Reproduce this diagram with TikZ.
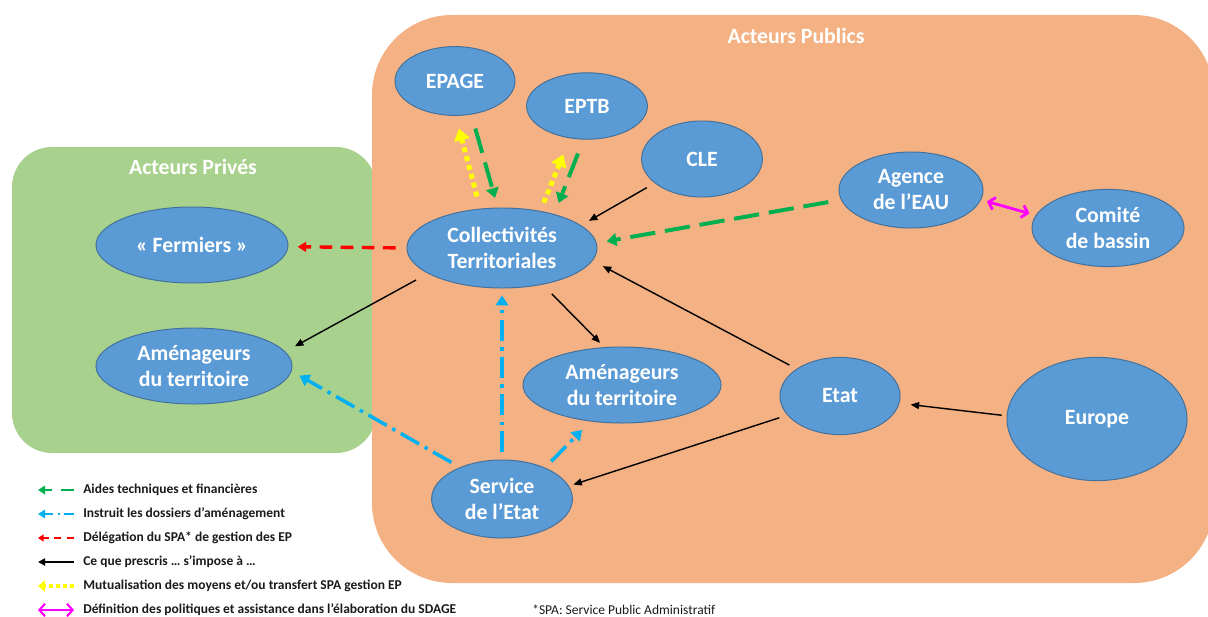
\documentclass[tikz,border=0pt]{standalone}
\usepackage{fontspec}
\setmainfont{Carlito}
\usetikzlibrary{shapes.geometric,arrows.meta}
\definecolor{pubfill}{HTML}{F4B183}
\definecolor{privfill}{HTML}{A9D18E}
\definecolor{actorfill}{HTML}{5B9BD5}
\definecolor{actorline}{HTML}{41719C}
\definecolor{aidgreen}{HTML}{00B050}
\definecolor{instblue}{HTML}{00B0F0}
\definecolor{delegred}{HTML}{FF0000}
\definecolor{mutyellow}{HTML}{FFFF00}
\definecolor{defmagenta}{HTML}{FF00FF}
\definecolor{legendtext}{HTML}{1A1A1A}
\begin{document}
\begin{tikzpicture}[x=0.025cm,y=-0.025cm,
  actor/.style={ellipse,draw=actorline,line width=0.7pt,fill=actorfill,
    text=white,font=\bfseries\fontsize{15.5}{18.5}\selectfont,align=center,inner sep=0pt},
  grouptitle/.style={text=white,font=\bfseries\fontsize{15.5}{18.5}\selectfont},
  aide/.style={draw=aidgreen,line width=2.8pt,dash pattern=on 18pt off 7pt,
    -{Triangle[length=7pt,width=9pt]}},
  instruit/.style={draw=instblue,line width=2.5pt,dash pattern=on 15pt off 4.5pt on 2.5pt off 4.5pt,
    -{Triangle[length=7pt,width=9pt]}},
  delegation/.style={draw=delegred,line width=2.4pt,dash pattern=on 9pt off 6pt,
    -{Triangle[length=6pt,width=7pt]}},
  impose/.style={draw=black,line width=1pt,-{Triangle[length=6pt,width=5pt]}},
  mutual/.style={draw=mutyellow,line width=3.5pt,dash pattern=on 3.5pt off 3pt,
    -{Triangle[length=8.5pt,width=11pt]}},
  definition/.style={draw=defmagenta,line width=2pt,
    {Straight Barb[length=4pt,width=9pt]}-{Straight Barb[length=4pt,width=9pt]}},
  legendlabel/.style={anchor=west,inner sep=0pt,text=legendtext,font=\bfseries\fontsize{9.6}{11}\selectfont},
  notelabel/.style={anchor=west,inner sep=0pt,text=legendtext,font=\fontsize{9.6}{11}\selectfont}
]
\clip (0,0) rectangle (1208,617);

% group backgrounds
\fill[privfill,rounded corners=1cm] (12,147) rectangle (376,453);
\fill[pubfill,rounded corners=2cm] (372,15) rectangle (1214,583);
\node[grouptitle] (tpriv) at (193,167) {Acteurs Privés};
\node[grouptitle] (tpub) at (796,36) {Acteurs Publics};

% actors
\node[actor,minimum width=3.0cm,minimum height=1.72cm] (epage) at (455,81) {EPAGE};
\node[actor,minimum width=3.02cm,minimum height=1.66cm] (eptb) at (587,106) {EPTB};
\node[actor,minimum width=3.02cm,minimum height=1.9cm] (cle) at (702,159) {CLE};
\node[actor,minimum width=4.75cm,minimum height=2.0cm] (coll) at (502,248) {Collectivités\\Territoriales};
\node[actor,minimum width=3.6cm,minimum height=1.9cm] (agence) at (911,190) {Agence\\de l’EAU};
\node[actor,minimum width=3.8cm,minimum height=1.93cm] (comite) at (1108,228) {Comité\\de bassin};
\node[actor,minimum width=4.8cm,minimum height=1.9cm] (fermiers) at (192,245) {« Fermiers »};
\node[actor,minimum width=4.9cm,minimum height=1.9cm] (amgauche) at (194,366) {Aménageurs\\du territoire};
\node[actor,minimum width=4.95cm,minimum height=1.9cm] (amcentre) at (622,385) {Aménageurs\\du territoire};
\node[actor,minimum width=3.52cm,minimum height=1.95cm] (service) at (502,499) {Service\\de l’Etat};
\node[actor,minimum width=3.0cm,minimum height=1.93cm] (etat) at (840,396) {Etat};
\node[actor,minimum width=4.5cm,minimum height=3.08cm] (europe) at (1097,419) {Europe};

% links
\draw[mutual,shorten <=9pt,shorten >=9.2pt] (coll.119) -- (epage.-89);
\draw[aide,shorten <=10.3pt,shorten >=7.1pt] (epage.-64) -- (coll.96);
\draw[mutual,shorten <=6.4pt,shorten >=12.3pt] (coll.44) -- (eptb.-118);
\draw[aide,shorten <=10.6pt,shorten >=8.5pt] (eptb.-96) -- (coll.33);
\draw[impose,shorten <=6.4pt,shorten >=6.4pt] (cle.-153) -- (coll.16);
\draw[aide,shorten <=9.1pt,shorten >=7.1pt] (agence.-172) -- (coll.3);
\draw[impose,shorten <=5.7pt,shorten >=8.2pt] (etat.148) -- (coll.-8);
\draw[impose,shorten <=9.6pt,shorten >=7.8pt] (coll.-161) -- (amgauche.9);
\draw[impose,shorten <=9.2pt,shorten >=4.3pt] (coll.-42) -- (amcentre.115);
\draw[delegation,shorten <=7.8pt,shorten >=6.6pt] (coll.180) -- (fermiers.-1);
\draw[instruit,shorten <=5pt,shorten >=5pt] (service.90) -- (coll.-90);
\draw[instruit,shorten <=6.9pt,shorten >=6.4pt] (service.143) -- (amgauche.-3);
\draw[instruit,shorten <=6.2pt,shorten >=8.4pt] (service.36) -- (amcentre.-131);
\draw[impose,shorten <=6pt,shorten >=3.3pt] (etat.-160) -- (service.11);
\draw[impose,shorten <=3.5pt,shorten >=8pt] (europe.178) -- (etat.-7);
\draw[definition,shorten <=4.3pt,shorten >=4.6pt] (agence.-8) -- (comite.170);

% legend
\foreach \row/\yy in {1/490,2/514,3/538,4/562,5/586,6/610}{
  \coordinate (lgs\row) at (74,\yy);
  \coordinate (lge\row) at (38,\yy);
}
\draw[aide,line width=2pt,dash pattern=on 9pt off 7pt,-{Triangle[length=5pt,width=6pt]}] (lgs1) -- (lge1);
\draw[instruit,line width=1.8pt,dash pattern=on 7pt off 3pt on 1.6pt off 3pt,-{Triangle[length=5pt,width=6pt]}] (lgs2) -- (lge2);
\draw[delegation,line width=1.5pt,dash pattern=on 5pt off 4pt,-{Triangle[length=4pt,width=5pt]}] (lgs3) -- (lge3);
\draw[impose,line width=1.4pt,-{Triangle[length=5pt,width=5pt]}] (lgs4) -- (lge4);
\draw[mutual,line width=2.8pt,dash pattern=on 2.5pt off 2.5pt,-{Triangle[length=5pt,width=8pt]}] (lgs5) -- (lge5);
\draw[definition,line width=1.5pt] (lgs6) -- (lge6);

\node[legendlabel] (lt1) at (83,490) {Aides techniques et financières};
\node[legendlabel] (lt2) at (83,514) {Instruit les dossiers d’aménagement};
\node[legendlabel] (lt3) at (83,538) {Délégation du SPA* de gestion des EP};
\node[legendlabel] (lt4) at (83,562) {Ce que prescris … s’impose à …};
\node[legendlabel] (lt5) at (83,586) {Mutualisation des moyens et/ou transfert SPA gestion EP};
\node[legendlabel] (lt6) at (83,610) {Définition des politiques et assistance dans l’élaboration du SDAGE};
\node[notelabel] (note) at (532,610) {*SPA: Service Public Administratif};
\end{tikzpicture}
\end{document}
